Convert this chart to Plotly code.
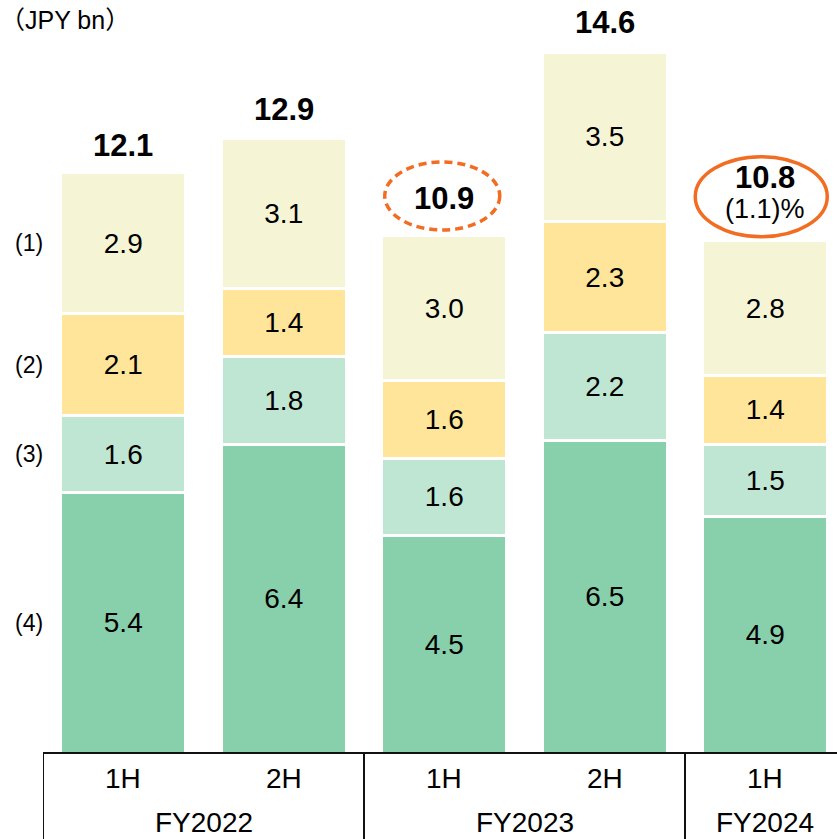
import plotly.graph_objects as go

# ---------------- data ----------------
periods = ["1H", "2H", "1H", "2H", "1H"]
fiscal_year_of_bar = ["FY2022", "FY2022", "FY2023", "FY2023", "FY2024"]
series_names = ["(4)", "(3)", "(2)", "(1)"]          # bottom -> top
series4 = [5.44, 6.44, 4.54, 6.53, 4.94]
series3 = [1.60, 1.84, 1.61, 2.24, 1.51]
series2 = [2.14, 1.41, 1.63, 2.33, 1.43]
series1 = [2.93, 3.14, 3.02, 3.53, 2.81]
totals = [12.1, 12.9, 10.9, 14.6, 10.8]
yoy_text = {4: "(1.1)%"}
unit_label = "（JPY bn）"

# ---------------- styles / geometry ----------------
colors = ["#88CFAB", "#BFE6D2", "#FFE59A", "#F5F5D6"]
ORANGE = "#F26C22"
FONT = "Arial, 'Liberation Sans', 'Noto Sans CJK JP', sans-serif"
W, H = 837, 839
M_L, M_R, M_T = 43, 0, 0
BASE = 753                        # baseline, figure px
M_B = H - BASE
PX_PER_CAT = 160.5
PLOT_W = W - M_L - M_R
PLOT_H = BASE - M_T
PX_PER_UNIT = 47.9
x_range = [-0.5, -0.5 + PLOT_W / PX_PER_CAT]
y_range = [0, PLOT_H / PX_PER_UNIT]
bar_width = 124.6 / PX_PER_CAT

def dx(px):
    return px / PX_PER_CAT

def dy(px):
    return px / PX_PER_UNIT

def paper_y(px_below_base):
    return -px_below_base / PLOT_H

x = list(range(len(periods)))
series = [series4, series3, series2, series1]

fig = go.Figure()
for name, vals, col in zip(series_names, series, colors):
    fig.add_trace(go.Bar(
        x=x, y=vals, name=name, width=bar_width,
        marker=dict(color=col, line=dict(color="white", width=3)),
        texttemplate="%{y:.1f}", textposition="inside",
        insidetextanchor="middle", textangle=0,
        textfont=dict(family=FONT, size=28, color="black"),
        constraintext="none", hoverinfo="skip",
    ))

stack_top = [sum(v) for v in zip(*series)]

annotations = []
shapes = []

# totals above the bars (px offset above stack top for each bar)
total_shift = [27.5, 29, 37, 30, 63.5]
for i, t in enumerate(totals):
    annotations.append(dict(
        x=i, y=stack_top[i], xref="x", yref="y", text=f"<b>{t:.1f}</b>",
        showarrow=False, yanchor="middle", yshift=total_shift[i],
        font=dict(family=FONT, size=31, color="black")))
for i, txt in yoy_text.items():
    annotations.append(dict(
        x=i, y=stack_top[i], xref="x", yref="y", text=txt,
        showarrow=False, yanchor="middle", yshift=31.5,
        font=dict(family=FONT, size=27, color="black")))

# ellipses around the highlighted totals: (bar index, x off px, y off px, half w, half h, dash)
ellipses = [(2, -2, 39.7, 57.5, 34, "8px,5px"), (4, -4, 44.3, 66, 40, "solid")]
for i, xo, yo, hw, hh, dash in ellipses:
    cx = i + dx(xo)
    cy = stack_top[i] + dy(yo)
    shapes.append(dict(type="circle", xref="x", yref="y",
                       x0=cx - dx(hw), x1=cx + dx(hw), y0=cy - dy(hh), y1=cy + dy(hh),
                       line=dict(color=ORANGE, width=3.5, dash=dash)))

# series labels on the left, aligned with the first bar's segments
cum = 0
for name, vals in zip(series_names, series):
    mid = cum + vals[0] / 2
    cum += vals[0]
    annotations.append(dict(
        x=-0.5, y=mid, xref="x", yref="y", text=name, showarrow=False,
        xanchor="center", xshift=-14, font=dict(family=FONT, size=23, color="black")))

# unit label
annotations.append(dict(
    x=0, y=1, xref="paper", yref="paper", text=unit_label, showarrow=False,
    xanchor="left", yanchor="middle", xshift=-M_L - 2, yshift=-20,
    font=dict(family=FONT, size=25, color="black")))

# category table beneath the bars
for i, p in enumerate(periods):
    annotations.append(dict(
        x=i, y=paper_y(25), xref="x", yref="paper", text=p, showarrow=False,
        yanchor="middle", font=dict(family=FONT, size=28, color="black")))
groups = []
for i, fy in enumerate(fiscal_year_of_bar):
    if not groups or groups[-1][0] != fy:
        groups.append([fy, i, i])
    else:
        groups[-1][2] = i
for fy, a, b in groups:
    annotations.append(dict(
        x=(a + b) / 2, y=paper_y(70), xref="x", yref="paper", text=fy, showarrow=False,
        yanchor="middle", font=dict(family=FONT, size=28, color="black")))
    shapes.append(dict(type="line", xref="x", yref="paper", x0=a - 0.5, x1=a - 0.5,
                       y0=0, y1=paper_y(M_B + 5), line=dict(color="#111", width=2)))
shapes.append(dict(type="line", xref="x", yref="paper", x0=-0.5, x1=x_range[1],
                   y0=0, y1=0, line=dict(color="#111", width=2)))

fig.update_layout(
    width=W, height=H, autosize=False,
    margin=dict(l=M_L, r=M_R, t=M_T, b=M_B, pad=0),
    barmode="stack", showlegend=False,
    paper_bgcolor="white", plot_bgcolor="white",
    xaxis=dict(range=x_range, visible=False, fixedrange=True),
    yaxis=dict(range=y_range, visible=False, fixedrange=True),
    annotations=annotations, shapes=shapes,
    uniformtext=dict(mode=False),
)

fig.write_html(
    "out.html",
    config={"displayModeBar": False},
    post_script="document.body.style.margin='0';document.body.style.overflow='hidden';",
)
